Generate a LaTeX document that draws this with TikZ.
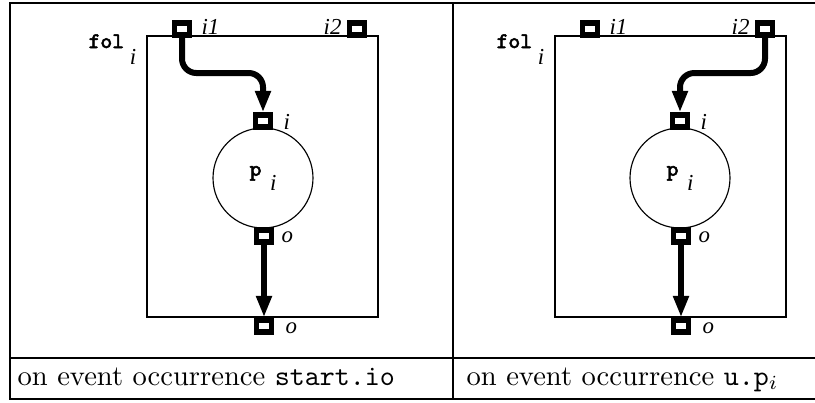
\documentclass[tikz,border=0pt]{standalone}
\usepackage{fontspec}
\usetikzlibrary{arrows.meta}
\newfontfamily\figrm{Liberation Serif}
\newfontfamily\figmono{Latin Modern Mono}[AutoFakeBold=2.2]
\newcommand{\portfont}{\fontsize{8}{9}\figrm\itshape}
\newcommand{\modfont}{\fontsize{7.8}{8}\figmono\bfseries}

\begin{document}
\begin{tikzpicture}[x=0.35pt, y=-0.35pt,
    port/.style={draw, line width=1.9pt, fill=white, minimum width=5.2pt, minimum height=4.2pt, inner sep=0pt},
    portlbl/.style={font=\portfont, inner sep=0pt},
    proc/.style={draw, circle, line width=0.4pt, minimum size=35pt, inner sep=0pt},
    flow/.style={line width=2.1pt, -{Triangle[length=7.5pt,width=5.2pt]}, rounded corners=5pt},
    frame/.style={line width=0.4pt},
    tbl/.style={line width=0.75pt}]
    \clip (0,0) rectangle (815,402);

    % Table rules
    \draw[tbl] (830,3) -| (10,399) -- (830,399);
    \draw[tbl] (10,358) -- (830,358);
    \draw[tbl] (453,3) -- (453,399);

    % One cell per event: box offset, process centre, active input
    \foreach \n/\bx/\cx/\src in {l/0/263/i1, r/408/680/i2} {
        % Composite with its ports
        \draw[frame] (147+\bx,36) rectangle (378+\bx,317);
        \node[anchor=base west, inner sep=0pt] (fol\n) at (88+\bx,48)
            {{\modfont fol}\hspace{2pt}\raisebox{-5.6pt}{\portfont i}};
        \node[port] (i1\n) at (182+\bx,29) {};
        \node[port] (i2\n) at (357+\bx,29) {};
        \node[port] (out\n) at (\cx+1,326) {};
        \node[portlbl, anchor=west] at (201+\bx,27) {i1};
        \node[portlbl, anchor=east] at (342+\bx,27) {i2};
        \node[portlbl, anchor=west] at (\cx+22,328) {o};

        % Inner process
        \node[proc] (p\n) at (\cx,178)
            {{\modfont p}\hspace{3pt}\raisebox{-5pt}{\portfont i}};
        \node[port] (pin\n) at (\cx,121) {};
        \node[port] (pout\n) at (\cx+1,236) {};
        \node[portlbl, anchor=west] at (\cx+20,122) {i};
        \node[portlbl, anchor=west] at (\cx+18,237) {o};

        % Token flow
        \coordinate (bend\n) at (0,73);
        \draw[flow] (\src\n.south) -- (\src\n.south |- bend\n) -- (pin\n.north |- bend\n) -- (pin\n.north);
        \draw[flow] (pout\n.south) -- (out\n.north);
    }

    % Captions
    \node[anchor=base west, inner sep=0pt] (capl) at (17,385) {on event occurrence \texttt{start.io}};
    \node[anchor=base west, inner sep=0pt] (capr) at (466,385) {on event occurrence \texttt{u.p}$_i$};
\end{tikzpicture}
\end{document}
